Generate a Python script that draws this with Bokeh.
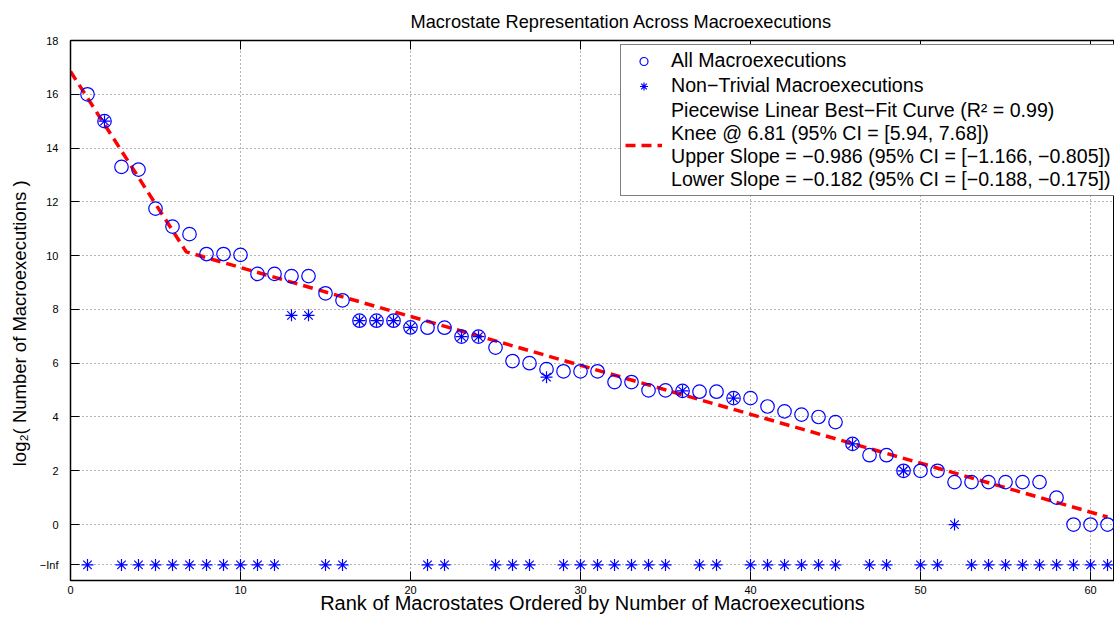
from bokeh.plotting import figure
from bokeh.models import FixedTicker, Legend, LegendItem, Range1d, LinearAxis, CustomJSTickFormatter
from bokeh.core.properties import value
from bokeh.embed import file_html
from bokeh.resources import INLINE

# ---- data ----
ranks = list(range(1, 62))
all_macro = [16.0, 15.0, 13.3, 13.2, 11.75, 11.08, 10.8, 10.06, 10.06, 10.03,
             9.32, 9.32, 9.24, 9.24, 8.6, 8.34, 7.58, 7.58, 7.58, 7.33,
             7.32, 7.32, 6.99, 6.99, 6.58, 6.08, 6.0, 5.78, 5.7, 5.7,
             5.7, 5.3, 5.3, 4.99, 4.99, 4.97, 4.94, 4.94, 4.7, 4.7,
             4.39, 4.21, 4.09, 4.0, 3.81, 3.0, 2.58, 2.58, 2.0, 2.0,
             2.0, 1.58, 1.58, 1.58, 1.58, 1.58, 1.58, 1.0, 0.0, 0.0, 0.0]
NEG_INF = float("-inf")
nontrivial = [NEG_INF, 15.0, NEG_INF, NEG_INF, NEG_INF, NEG_INF, NEG_INF, NEG_INF, NEG_INF, NEG_INF,
              NEG_INF, NEG_INF, 7.78, 7.78, NEG_INF, NEG_INF, 7.58, 7.58, 7.58, 7.33,
              NEG_INF, NEG_INF, 6.99, 6.99, NEG_INF, NEG_INF, NEG_INF, 5.48, NEG_INF, NEG_INF,
              NEG_INF, NEG_INF, NEG_INF, NEG_INF, NEG_INF, 4.97, NEG_INF, NEG_INF, 4.7, NEG_INF,
              NEG_INF, NEG_INF, NEG_INF, NEG_INF, NEG_INF, 3.0, NEG_INF, NEG_INF, 2.0, NEG_INF,
              NEG_INF, 0.0, NEG_INF, NEG_INF, NEG_INF, NEG_INF, NEG_INF, NEG_INF, NEG_INF, NEG_INF, NEG_INF]
fit_x = [0.0, 6.81, 61.0]
fit_y = [16.85, 10.14, 0.28]

x_ticks = [0, 10, 20, 30, 40, 50, 60]
NEG_INF_TICK = -1.5          # axis position where -Inf is drawn
y_ticks = [NEG_INF_TICK, 0, 2, 4, 6, 8, 10, 12, 14, 16, 18]
y_tick_labels = {NEG_INF_TICK: "\u2212Inf"}

title_text = "Macrostate Representation Across Macroexecutions"
x_label = "Rank of Macrostates Ordered by Number of Macroexecutions"
y_label = "log\u2082( Number of Macroexecutions )\u00a0\u00a0\u00a0\u00a0\u00a0"
leg_all = "All Macroexecutions"
leg_nt = "Non\u2212Trivial Macroexecutions"
leg_fit = ("Piecewise Linear Best\u2212Fit Curve (R\u00b2 = 0.99)\n"
           "Knee @ 6.81 (95% CI = [5.94, 7.68])\n"
           "Upper Slope = \u22120.986 (95% CI = [\u22121.166, \u22120.805])\n"
           "Lower Slope = \u22120.182 (95% CI = [\u22120.188, \u22120.175])")

FONT = "Liberation Sans"
BLUE = "#0000ff"

nt_plot = [NEG_INF_TICK if v == NEG_INF else v for v in nontrivial]

p = figure(width=1114, height=618, output_backend="svg", toolbar_location=None,
           x_range=Range1d(0, 61.41), y_range=Range1d(-2.08, 18),
           min_border_left=70, min_border_right=0, min_border_top=40, min_border_bottom=38,
           title=title_text)

p.title.text_font = FONT
p.title.text_font_size = "18.2px"
p.title.text_font_style = "normal"
p.title.text_color = "black"
p.title.align = "left"
p.title.offset = 340
p.title.standoff = 18

p.outline_line_color = "black"
p.outline_line_width = 1
p.background_fill_color = "white"
p.border_fill_color = "white"

xa = p.below[0]
ya = p.left[0]

top_axis = LinearAxis(ticker=FixedTicker(ticks=x_ticks),
                      formatter=CustomJSTickFormatter(code="return '';"))
top_axis.major_label_standoff = 0
top_axis.major_label_text_font_size = "1px"
top_axis.axis_label_standoff = 0
p.add_layout(top_axis, "above")

for ax in (xa, ya, top_axis):
    ax.major_tick_in = 9
    ax.major_tick_out = 0
    ax.minor_tick_in = 0
    ax.minor_tick_out = 0
    ax.axis_line_color = "black"
    ax.axis_line_width = 1.5
    ax.major_tick_line_color = "black"
for ax in (xa, ya):
    ax.major_label_text_font = FONT
    ax.major_label_text_font_size = "11px"
    ax.major_label_text_color = "black"
    ax.axis_label_text_font = FONT
    ax.axis_label_text_font_style = "normal"
    ax.axis_label_text_color = "black"

xa.ticker = FixedTicker(ticks=x_ticks)
xa.axis_label = x_label
xa.axis_label_text_font_size = "20px"
xa.major_label_standoff = 5
xa.axis_label_standoff = -5

ya.ticker = FixedTicker(ticks=y_ticks)
ya.major_label_overrides = y_tick_labels
ya.axis_label = y_label
ya.axis_label_text_font_size = "18.5px"
ya.major_label_standoff = 12
ya.axis_label_standoff = 7

for g in (p.xgrid[0], p.ygrid[0]):
    g.grid_line_color = "#666666"
    g.grid_line_dash = "1 3"
    g.grid_line_width = 1
p.xgrid[0].ticker = FixedTicker(ticks=x_ticks)
p.ygrid[0].ticker = FixedTicker(ticks=y_ticks)

r_fit = p.line(fit_x, fit_y, line_color="#ff0000", line_width=3.5, line_dash="10 6")
r_all = p.scatter(ranks, all_macro, marker="circle", size=13.5, fill_color=None,
                  line_color=BLUE, line_width=1.2)
r_nt = p.scatter(ranks, nt_plot, marker="asterisk", size=12, line_color=BLUE, line_width=1.2)

legend = Legend(items=[LegendItem(label=value(leg_all), renderers=[r_all]),
                       LegendItem(label=value(leg_nt), renderers=[r_nt]),
                       LegendItem(label=value(leg_fit), renderers=[r_fit])],
                location=(550, 384))
legend.label_text_font = FONT
legend.label_text_font_size = "19.6px"
legend.label_text_line_height = 1.2
legend.label_text_color = "black"
legend.glyph_width = 37
legend.glyph_height = 20
legend.label_standoff = 9
legend.label_height = 20
legend.spacing = 2
legend.padding = 4
legend.margin = 0
legend.border_line_color = "black"
legend.border_line_width = 1
legend.background_fill_color = "white"
legend.background_fill_alpha = 1
p.add_layout(legend, "center")

open("out.html", "w").write(file_html(p, INLINE))
